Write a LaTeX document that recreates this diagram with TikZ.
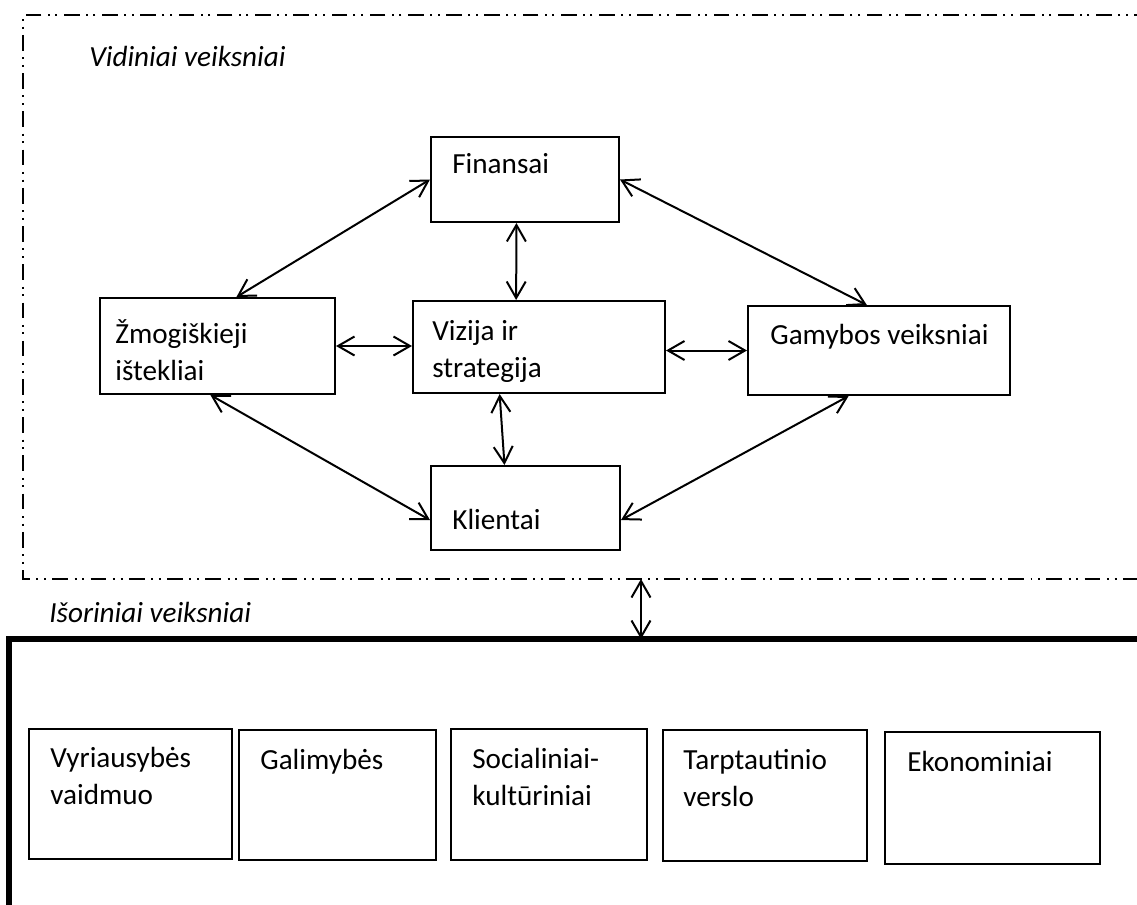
\documentclass[tikz,border=0pt]{standalone}
\usepackage{fontspec}
\setmainfont{Carlito}
\usetikzlibrary{arrows.meta,calc,fit}
% stacked lines whose baseline is that of the first line
\newcommand\stackedtext[1]{\begin{tabular}[t]{@{}l@{}}#1\end{tabular}}
\begin{document}
\begin{tikzpicture}[x=0.02cm,y=-0.02cm,
  every node/.style={font=\fontsize{16.6}{21.5}\selectfont},
  ital/.style={font=\fontsize{16.6}{21.5}\selectfont\itshape},
  box/.style={draw, line width=0.04cm, inner sep=0pt},
  lbl/.style={anchor=base west, inner sep=0pt},
  conn/.style={line width=0.04cm, {Straight Barb[length=3.3mm,width=3.8mm]}-{Straight Barb[length=3.3mm,width=3.8mm]}},
  frame/.style={line width=0.045cm, dash pattern=on 8.9pt off 3.8pt on 1.13pt off 3.2pt on 1.13pt off 3.6pt},
]
\clip (0,0) rectangle (1137,904);
\fill[white] (0,0) rectangle (1137,904);

% internal environment (dash-dot frame) and external environment (thick frame)
\draw[frame] (1150,15) -- (23,15) -- (23,579) -- (1150,579);
\draw[line width=0.12cm] (9,930) -- (9,639) -- (1150,639);
\coordinate (inb) at (641,579);
\coordinate (outt) at (641,639);

\node[lbl, ital] (vid) at (89,66) {Vidiniai veiksniai};
\node[lbl, ital] (isor) at (49,622) {Išoriniai veiksniai};

% internal factors
\node[box, fit={(431,137) (619,222)}] (fin) {};
\node[box, fit={(413,301) (665,393)}] (viz) {};
\node[box, fit={(100,298) (335,394)}] (zmo) {};
\node[box, fit={(748,306) (1010,395)}] (gam) {};
\node[box, fit={(431,466) (620,550)}] (kli) {};

\node[lbl] (fin-t) at (452,173) {Finansai};
\node[lbl] (viz-t) at (432,340) {\stackedtext{Vizija ir\\strategija}};
\node[lbl] (zmo-t) at (115,343) {\stackedtext{Žmogiškieji\\ištekliai}};
\node[lbl] (gam-t) at (770,344) {Gamybos veiksniai};
\node[lbl] (kli-t) at (452,529) {Klientai};

% external factors
\node[box, fit={(29,729) (232,859)}] (vyr) {};
\node[box, fit={(239,730) (436,860)}] (gal) {};
\node[box, fit={(451,729) (647,860)}] (soc) {};
\node[box, fit={(663,730) (867,861)}] (tar) {};
\node[box, fit={(885,732) (1100,864)}] (eko) {};

\node[lbl] (vyr-t) at (50,767) {\stackedtext{Vyriausybės\\vaidmuo}};
\node[lbl] (gal-t) at (260,769) {Galimybės};
\node[lbl] (soc-t) at (472,768) {\stackedtext{Socialiniai-\\kultūriniai}};
\node[lbl] (tar-t) at (683,769) {\stackedtext{Tarptautinio\\verslo}};
\node[lbl] (eko-t) at (907,771) {Ekonominiai};

% connectors
\draw[conn] (fin.west) -- ($(zmo.north west)!0.58!(zmo.north east)$);
\draw[conn] (fin.east) -- ($(gam.north west)!0.454!(gam.north east)$);
\draw[conn] ($(fin.south west)!0.455!(fin.south east)$) -- ($(viz.north west)!0.41!(viz.north east)$);
\draw[conn] (zmo.east) -- (zmo.east -| viz.west);
\draw[conn] (viz.east |- gam.west) -- (gam.west);
\draw[conn] ($(zmo.south west)!0.47!(zmo.south east)$) -- ($(kli.north west)!0.64!(kli.south west)$);
\draw[conn] ($(viz.south west)!0.345!(viz.south east)$) -- ($(kli.north west)!0.39!(kli.north east)$);
\draw[conn] ($(gam.south west)!0.385!(gam.south east)$) -- ($(kli.north east)!0.64!(kli.south east)$);
\draw[conn] (inb) -- (outt);
\end{tikzpicture}
\end{document}
